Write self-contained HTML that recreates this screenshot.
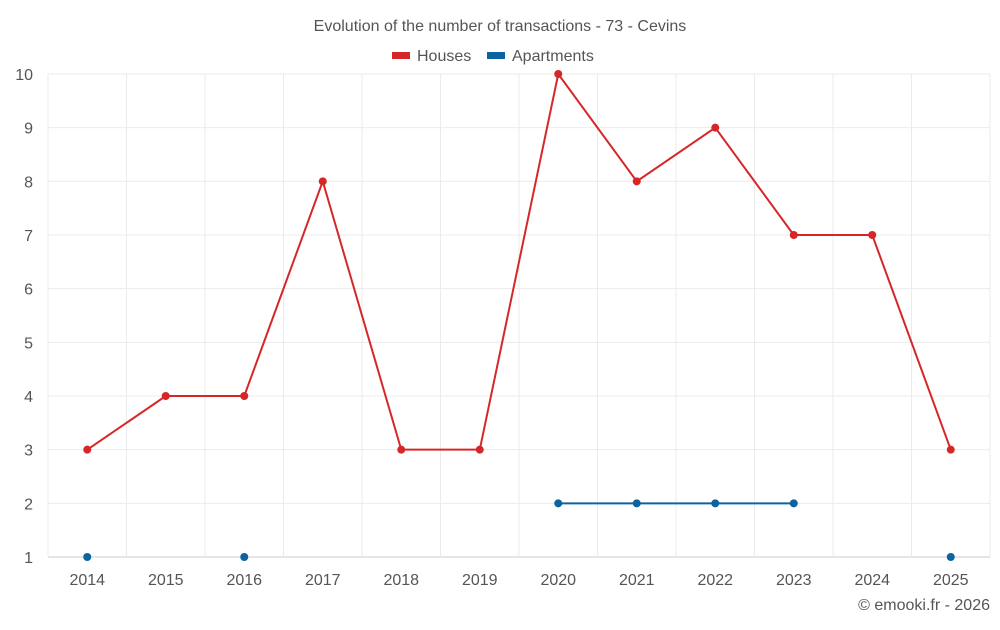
<!DOCTYPE html>
<html><head><meta charset="utf-8"><style>
body{margin:0;background:#fff;font-family:"Liberation Sans",sans-serif;}
svg text{font-family:"Liberation Sans",sans-serif;fill:#555;}
</style></head><body>
<svg id="chart" width="1000" height="625">
<text x="500" y="31" text-anchor="middle" font-size="16">Evolution of the number of transactions - 73 - Cevins</text>
<g>
<g><rect x="392" y="52" width="18" height="7" fill="#d62728"/><text x="417" y="61" font-size="16">Houses</text></g>
<g><rect x="487" y="52" width="18" height="7" fill="#0b64a0"/><text x="512" y="61" font-size="16">Apartments</text></g>
</g>
<g id="grid"></g><g id="axes"></g><g id="series"></g>
<text x="990" y="610" text-anchor="end" font-size="16">© emooki.fr - 2026</text>
</svg>
<script>
const years=[2014,2015,2016,2017,2018,2019,2020,2021,2022,2023,2024,2025];
const houses=[3,4,4,8,3,3,10,8,9,7,7,3];
const apartments=[1,null,1,null,null,null,2,2,2,2,null,1];
const yTicks=[1,2,3,4,5,6,7,8,9,10];
const L=48,R=990,T=74,B=557,NS="http://www.w3.org/2000/svg";
const step=(R-L)/years.length;
const xs=i=>L+step*(i+0.5);
const ys=v=>B-(v-1)*(B-T)/9;
function mk(tag,attrs,parent){const e=document.createElementNS(NS,tag);for(const k in attrs)e.setAttribute(k,attrs[k]);parent.appendChild(e);return e;}
const grid=document.getElementById('grid'),axes=document.getElementById('axes'),ser=document.getElementById('series');
yTicks.forEach(v=>{
 const l=mk('line',{x1:L,x2:R,y1:ys(v),y2:ys(v),stroke:v===1?'#ccc':'#ebebeb'},grid);
 
 
 const t=mk('text',{x:33,y:ys(v)+6,'text-anchor':'end','font-size':16},axes);t.textContent=v;
 
 
});
for(let i=0;i<=years.length;i++){
 const l=mk('line',{x1:L+step*i,x2:L+step*i,y1:T,y2:B,stroke:'#ebebeb'},grid);
 
 
}
years.forEach((y,i)=>{
 const t=mk('text',{x:xs(i),y:585,'text-anchor':'middle','font-size':16},axes);t.textContent=y;
 
 
});
function draw(vals,color,name){
 let seg=[];const segs=[];
 vals.forEach((v,i)=>{if(v==null){if(seg.length)segs.push(seg);seg=[];}else seg.push([xs(i),ys(v)]);});
 if(seg.length)segs.push(seg);
 segs.forEach(s=>{if(s.length>1){const p=mk('polyline',{points:s.map(q=>q.join(',')).join(' '),fill:'none',stroke:color,'stroke-width':2},ser);
  
  }});
 vals.forEach((v,i)=>{if(v==null)return;const c=mk('circle',{cx:xs(i),cy:ys(v),r:4,fill:color},ser);
  
  });
}
draw(houses,'#d62728','houses');
draw(apartments,'#0b64a0','apartments');
</script>
</body></html>
